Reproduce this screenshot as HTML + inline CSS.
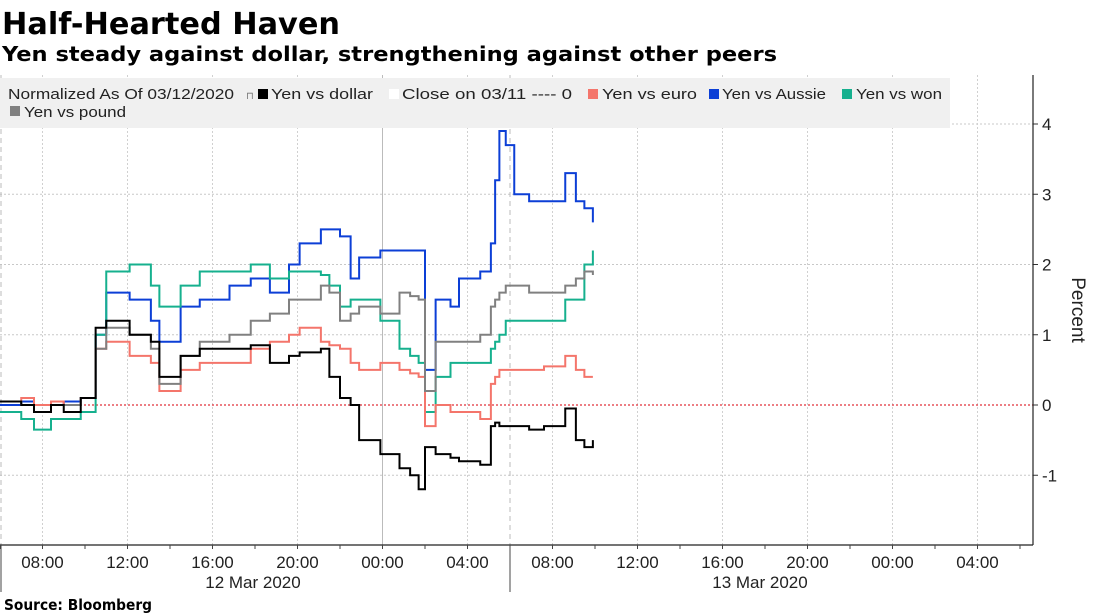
<!DOCTYPE html>
<html><head><meta charset="utf-8"><style>
html,body{margin:0;padding:0;background:#fff;}
svg{display:block;font-family:"DejaVu Sans","Liberation Sans",sans-serif;}
</style></head><body>
<svg id="chart" width="1095" height="615" xmlns="http://www.w3.org/2000/svg">
<text x="2" y="34" font-size="30" font-weight="bold" textLength="338" lengthAdjust="spacingAndGlyphs">Half-Hearted Haven</text>
<text x="2" y="61" font-size="20" font-weight="bold" textLength="775" lengthAdjust="spacingAndGlyphs">Yen steady against dollar, strengthening against other peers</text>
<g id="grid"></g>
<rect x="0" y="78" width="950" height="50" fill="#f0f0f0"/>
<g font-size="15" fill="#222" font-family="Liberation Sans, sans-serif">
<text x="8" y="99" textLength="226" lengthAdjust="spacingAndGlyphs">Normalized As Of 03/12/2020</text>
<text x="246" y="99" font-size="10" fill="#777">⊓</text>
<rect x="258" y="89" width="10" height="10" fill="#000"/>
<text x="271" y="99" textLength="102" lengthAdjust="spacingAndGlyphs">Yen vs dollar</text>
<rect x="389" y="89" width="10" height="10" fill="#fff"/>
<text x="402" y="99" textLength="170" lengthAdjust="spacingAndGlyphs">Close on 03/11 ---- 0</text>
<rect x="588" y="89" width="10" height="10" fill="#f4756b"/>
<text x="602" y="99" textLength="95" lengthAdjust="spacingAndGlyphs">Yen vs euro</text>
<rect x="709" y="89" width="10" height="10" fill="#0c3fd6"/>
<text x="722" y="99" textLength="104" lengthAdjust="spacingAndGlyphs">Yen vs Aussie</text>
<rect x="842" y="89" width="10" height="10" fill="#16b08e"/>
<text x="856" y="99" textLength="86" lengthAdjust="spacingAndGlyphs">Yen vs won</text>
<rect x="10" y="106" width="10" height="10" fill="#808080"/>
<text x="24" y="117" textLength="102" lengthAdjust="spacingAndGlyphs">Yen vs pound</text>
</g>
<g id="series"></g>
<g id="axes" font-family="Liberation Sans, sans-serif"></g>
<text x="4" y="610" font-size="15" font-weight="bold" textLength="148" lengthAdjust="spacingAndGlyphs">Source: Bloomberg</text>
</svg>
<script>
const hours = [0,1,1.6,2.4,3,3.8,4.5,5,6.1,7.1,7.5,8.5,9.4,10.8,11.8,12.7,13.6,14.1,15.1,15.5,16,16.5,16.9,17.9,18.8,19.3,19.7,20,20.5,21.2,21.6,22.6,23.1,23.3,23.5,23.8,24.2,24.9,25.6,25.9,26.6,27.1,27.5,27.9];
const dollar = [0.05,0,-0.1,0,-0.1,0.1,1.1,1.2,1.0,0.9,0.4,0.7,0.8,0.8,0.85,0.6,0.7,0.75,0.8,0.4,0.1,0,-0.5,-0.7,-0.9,-1.0,-1.2,-0.6,-0.7,-0.75,-0.8,-0.85,-0.3,-0.25,-0.3,-0.3,-0.3,-0.35,-0.3,-0.3,-0.05,-0.5,-0.6,-0.5];
const aussie = [0,0.05,-0.1,0,0.05,0.1,1.0,1.6,1.5,1.2,0.9,1.4,1.5,1.7,1.8,1.6,2.0,2.3,2.5,2.5,2.4,1.8,2.1,2.2,2.2,2.2,2.2,0.5,1.5,1.4,1.8,1.9,2.3,3.2,3.9,3.7,3.0,2.9,2.9,2.9,3.3,2.9,2.8,2.6];
const won = [-0.1,-0.2,-0.35,-0.2,-0.2,-0.1,1.0,1.9,2.0,1.7,1.4,1.7,1.9,1.9,2.0,1.8,1.9,1.9,1.85,1.7,1.4,1.5,1.5,1.2,0.8,0.7,0.6,-0.1,0.4,0.6,0.6,0.6,0.8,0.9,1.0,1.2,1.2,1.2,1.2,1.2,1.5,1.5,2.0,2.2];
const euro = [0.05,0.1,0,0.05,0,0.1,0.8,0.9,0.7,0.6,0.2,0.5,0.6,0.6,0.8,0.9,1.0,1.1,0.9,0.85,0.8,0.6,0.5,0.6,0.5,0.45,0.4,-0.3,0.0,-0.1,-0.1,-0.2,0.3,0.4,0.5,0.5,0.5,0.5,0.55,0.55,0.7,0.5,0.4,0.4];
const pound = [0.05,0,-0.1,0,0,0.1,0.8,1.1,1.0,0.8,0.3,0.7,0.9,1.0,1.2,1.3,1.5,1.5,1.7,1.6,1.2,1.3,1.4,1.3,1.6,1.55,1.5,0.2,0.9,0.9,0.9,1.0,1.4,1.5,1.6,1.7,1.7,1.6,1.6,1.6,1.7,1.8,1.9,1.85];
const yTicks = [-1,0,1,2,3,4];
const xTickHours = [2,6,10,14,18,22,26,30,34,38,42,46];
const xTickLabels = ["08:00","12:00","16:00","20:00","00:00","04:00","08:00","12:00","16:00","20:00","00:00","04:00"];

const NS="http://www.w3.org/2000/svg";
const X = h => h*21.25;
const Y = v => 405 - v*70.25;
function mk(tag, attrs, parent){const e=document.createElementNS(NS,tag);for(const k in attrs)e.setAttribute(k,attrs[k]);parent.appendChild(e);return e;}
const grid=document.getElementById('grid'), series=document.getElementById('series'), axes=document.getElementById('axes');

yTicks.forEach(v=>{
  const l=mk('line',{x1:0,x2:1033,y1:Y(v),y2:Y(v),stroke:'#c8c8c8','stroke-dasharray':'2,2'},grid);
  
  
  const t=mk('text',{x:1042,y:Y(v)+6,'font-size':17,fill:'#222'},axes);
  
  
  t.textContent = v<0 ? '-'+Math.abs(v) : String(v);
  mk('line',{x1:1033,x2:1038,y1:Y(v),y2:Y(v),stroke:'#333'},axes);
});
xTickHours.forEach((h,i)=>{
  const solid = h===18;
  const l=mk('line',{x1:X(h),x2:X(h),y1:75,y2:545,stroke:solid?'#bbb':'#d0d0d0','stroke-dasharray':solid?'':'2,2'},grid);
  
  
  const t=mk('text',{x:X(h),y:568,'font-size':17,fill:'#222','text-anchor':'middle'},axes);
  
  
  t.textContent=xTickLabels[i];
});
mk('line',{x1:X(24),x2:X(24),y1:75,y2:545,stroke:'#bbb','stroke-dasharray':'5,4'},grid);
mk('line',{x1:1,x2:1,y1:75,y2:545,stroke:'#bbb','stroke-dasharray':'5,4'},grid);
const zl=mk('line',{x1:0,x2:1033,y1:Y(0),y2:Y(0),stroke:'#e0303a','stroke-dasharray':'2,2','stroke-width':1.3},series);



function stepPath(vals){
  let d='M'+X(hours[0])+','+Y(vals[0]);
  for(let i=1;i<hours.length;i++){d+=' H'+X(hours[i])+' V'+Y(vals[i]);}
  return d;
}
[['aussie',aussie,'#0c3fd6'],['won',won,'#16b08e'],['euro',euro,'#f4756b'],['pound',pound,'#808080'],['dollar',dollar,'#000']].forEach(s=>{
  const p=mk('path',{d:stepPath(s[1]),fill:'none',stroke:s[2],'stroke-width':2},series);
  
  
});

mk('line',{x1:0,x2:1033,y1:545,y2:545,stroke:'#222','stroke-width':1.2},axes);
mk('line',{x1:1033,x2:1033,y1:75,y2:545,stroke:'#222','stroke-width':1.2},axes);
mk('line',{x1:1,x2:1,y1:545,y2:592,stroke:'#444'},axes);
mk('line',{x1:X(24),x2:X(24),y1:545,y2:592,stroke:'#444'},axes);
for(let h=0;h<=48;h+=2){mk('line',{x1:X(h),x2:X(h),y1:545,y2:549,stroke:'#444'},axes);}
const d1=mk('text',{x:253,y:588,'font-size':17,fill:'#222','text-anchor':'middle'},axes);


d1.textContent='12 Mar 2020';
const d2=mk('text',{x:760,y:588,'font-size':17,fill:'#222','text-anchor':'middle'},axes);


d2.textContent='13 Mar 2020';
const yt=mk('text',{x:1072,y:310,'font-size':19,fill:'#222','text-anchor':'middle',transform:'rotate(90 1072 310)'},axes);


yt.textContent='Percent';
</script>
</body></html>
